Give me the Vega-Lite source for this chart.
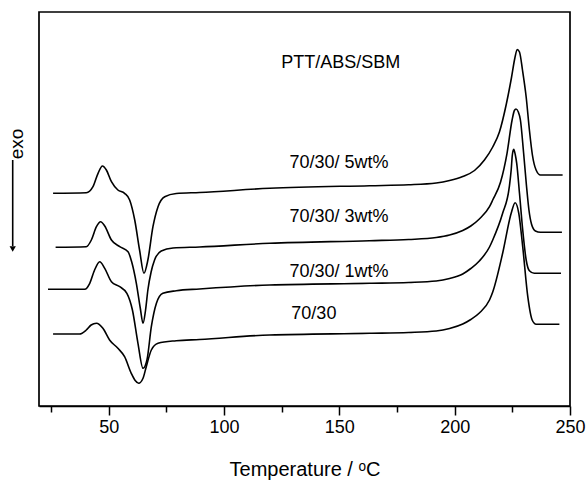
{
  "$schema": "https://vega.github.io/schema/vega-lite/v6.json",
  "width": 531,
  "height": 394,
  "autosize": {"type": "none"},
  "padding": {"left": 39, "top": 12, "right": 18, "bottom": 77},
  "background": "white",
  "config": {"view": {"stroke": "black", "strokeWidth": 1.7}, "font": "Liberation Sans"},
  "datasets": {
    "curves": [
      {"s": "5wt", "T": 25.9, "v": 212.7}, {"s": "5wt", "T": 40.3, "v": 213.3}, {"s": "5wt", "T": 43.2, "v": 219.3}, {"s": "5wt", "T": 45.4, "v": 232.7}, {"s": "5wt", "T": 47.3, "v": 240}, {"s": "5wt", "T": 49.0, "v": 236}, {"s": "5wt", "T": 51.2, "v": 224.3}, {"s": "5wt", "T": 54.0, "v": 216}, {"s": "5wt", "T": 56.9, "v": 212.7}, {"s": "5wt", "T": 59.1, "v": 206}, {"s": "5wt", "T": 61.3, "v": 186}, {"s": "5wt", "T": 63.4, "v": 156}, {"s": "5wt", "T": 65.3, "v": 132.7}, {"s": "5wt", "T": 67.0, "v": 146}, {"s": "5wt", "T": 69.2, "v": 179.3}, {"s": "5wt", "T": 71.4, "v": 199.3}, {"s": "5wt", "T": 74.3, "v": 209.3}, {"s": "5wt", "T": 79.3, "v": 212.5}, {"s": "5wt", "T": 89.4, "v": 213.5}, {"s": "5wt", "T": 119.8, "v": 217.7}, {"s": "5wt", "T": 163.1, "v": 220.3}, {"s": "5wt", "T": 180.0, "v": 221.2}, {"s": "5wt", "T": 192.0, "v": 223}, {"s": "5wt", "T": 197.8, "v": 225.5}, {"s": "5wt", "T": 203.5, "v": 229.5}, {"s": "5wt", "T": 208.6, "v": 235.5}, {"s": "5wt", "T": 212.9, "v": 246}, {"s": "5wt", "T": 216.5, "v": 259}, {"s": "5wt", "T": 219.4, "v": 274}, {"s": "5wt", "T": 222.4, "v": 302}, {"s": "5wt", "T": 224.6, "v": 328}, {"s": "5wt", "T": 226.1, "v": 348}, {"s": "5wt", "T": 227.1, "v": 356.5}, {"s": "5wt", "T": 228.1, "v": 354}, {"s": "5wt", "T": 229.4, "v": 336}, {"s": "5wt", "T": 231.0, "v": 309}, {"s": "5wt", "T": 232.4, "v": 276}, {"s": "5wt", "T": 233.7, "v": 251}, {"s": "5wt", "T": 235.3, "v": 236}, {"s": "5wt", "T": 237.2, "v": 231}, {"s": "5wt", "T": 246.8, "v": 231},

      {"s": "3wt", "T": 27.0, "v": 158.7}, {"s": "3wt", "T": 40.3, "v": 159.3}, {"s": "3wt", "T": 42.5, "v": 166}, {"s": "3wt", "T": 44.7, "v": 179.3}, {"s": "3wt", "T": 46.5, "v": 184.3}, {"s": "3wt", "T": 48.3, "v": 180}, {"s": "3wt", "T": 51.2, "v": 166}, {"s": "3wt", "T": 54.8, "v": 159.3}, {"s": "3wt", "T": 58.4, "v": 154.3}, {"s": "3wt", "T": 60.0, "v": 144}, {"s": "3wt", "T": 62.0, "v": 122.7}, {"s": "3wt", "T": 63.7, "v": 98}, {"s": "3wt", "T": 64.9, "v": 82.7}, {"s": "3wt", "T": 66.0, "v": 96}, {"s": "3wt", "T": 67.0, "v": 116}, {"s": "3wt", "T": 68.4, "v": 134}, {"s": "3wt", "T": 69.9, "v": 146}, {"s": "3wt", "T": 72.8, "v": 155}, {"s": "3wt", "T": 77.9, "v": 158}, {"s": "3wt", "T": 89.4, "v": 159}, {"s": "3wt", "T": 119.8, "v": 162.7}, {"s": "3wt", "T": 163.1, "v": 165.3}, {"s": "3wt", "T": 180.0, "v": 166.5}, {"s": "3wt", "T": 192.0, "v": 168.5}, {"s": "3wt", "T": 197.8, "v": 171}, {"s": "3wt", "T": 203.5, "v": 175.5}, {"s": "3wt", "T": 207.0, "v": 180}, {"s": "3wt", "T": 210.7, "v": 187}, {"s": "3wt", "T": 215.1, "v": 199.3}, {"s": "3wt", "T": 216.5, "v": 206}, {"s": "3wt", "T": 219.9, "v": 224}, {"s": "3wt", "T": 222.7, "v": 252.7}, {"s": "3wt", "T": 224.9, "v": 286}, {"s": "3wt", "T": 225.9, "v": 295.5}, {"s": "3wt", "T": 226.6, "v": 297}, {"s": "3wt", "T": 227.6, "v": 294}, {"s": "3wt", "T": 228.5, "v": 286}, {"s": "3wt", "T": 229.9, "v": 252.7}, {"s": "3wt", "T": 231.1, "v": 221}, {"s": "3wt", "T": 232.2, "v": 196}, {"s": "3wt", "T": 233.3, "v": 182}, {"s": "3wt", "T": 235.0, "v": 175}, {"s": "3wt", "T": 237.2, "v": 173.7}, {"s": "3wt", "T": 246.5, "v": 173.7},

      {"s": "1wt", "T": 23.7, "v": 116.7}, {"s": "1wt", "T": 39.6, "v": 116.7}, {"s": "1wt", "T": 41.8, "v": 122.7}, {"s": "1wt", "T": 43.9, "v": 136}, {"s": "1wt", "T": 46.1, "v": 144.3}, {"s": "1wt", "T": 48.3, "v": 137.7}, {"s": "1wt", "T": 51.2, "v": 124.3}, {"s": "1wt", "T": 54.8, "v": 119.3}, {"s": "1wt", "T": 57.9, "v": 112.7}, {"s": "1wt", "T": 60.3, "v": 96}, {"s": "1wt", "T": 62.7, "v": 62.7}, {"s": "1wt", "T": 64.9, "v": 37.7}, {"s": "1wt", "T": 66.6, "v": 46}, {"s": "1wt", "T": 68.5, "v": 79.3}, {"s": "1wt", "T": 70.7, "v": 102.7}, {"s": "1wt", "T": 73.5, "v": 112.7}, {"s": "1wt", "T": 79.3, "v": 115.3}, {"s": "1wt", "T": 89.4, "v": 117}, {"s": "1wt", "T": 119.8, "v": 121}, {"s": "1wt", "T": 163.1, "v": 122.7}, {"s": "1wt", "T": 180.0, "v": 123.5}, {"s": "1wt", "T": 192.0, "v": 125}, {"s": "1wt", "T": 197.8, "v": 127.5}, {"s": "1wt", "T": 203.5, "v": 132}, {"s": "1wt", "T": 207.0, "v": 137.5}, {"s": "1wt", "T": 210.7, "v": 145}, {"s": "1wt", "T": 215.1, "v": 159}, {"s": "1wt", "T": 216.5, "v": 166}, {"s": "1wt", "T": 220.8, "v": 192.7}, {"s": "1wt", "T": 223.7, "v": 219.3}, {"s": "1wt", "T": 224.5, "v": 236}, {"s": "1wt", "T": 225.0, "v": 251}, {"s": "1wt", "T": 225.6, "v": 256.7}, {"s": "1wt", "T": 226.3, "v": 251}, {"s": "1wt", "T": 226.9, "v": 242.7}, {"s": "1wt", "T": 228.1, "v": 212.7}, {"s": "1wt", "T": 229.5, "v": 176}, {"s": "1wt", "T": 231.0, "v": 146}, {"s": "1wt", "T": 232.4, "v": 135.3}, {"s": "1wt", "T": 234.5, "v": 132.7}, {"s": "1wt", "T": 246.1, "v": 132.7},

      {"s": "0", "T": 25.9, "v": 72}, {"s": "0", "T": 37.4, "v": 72}, {"s": "0", "T": 40.3, "v": 76}, {"s": "0", "T": 42.4, "v": 81}, {"s": "0", "T": 44.7, "v": 82.7}, {"s": "0", "T": 47.5, "v": 77.7}, {"s": "0", "T": 50.4, "v": 66}, {"s": "0", "T": 54.0, "v": 57.7}, {"s": "0", "T": 56.9, "v": 49.3}, {"s": "0", "T": 59.8, "v": 32.7}, {"s": "0", "T": 61.5, "v": 25.5}, {"s": "0", "T": 63.0, "v": 22.7}, {"s": "0", "T": 64.9, "v": 27.7}, {"s": "0", "T": 66.3, "v": 39.3}, {"s": "0", "T": 68.5, "v": 56}, {"s": "0", "T": 71.4, "v": 62.7}, {"s": "0", "T": 79.3, "v": 65.3}, {"s": "0", "T": 89.4, "v": 66.5}, {"s": "0", "T": 119.8, "v": 71}, {"s": "0", "T": 163.1, "v": 72.7}, {"s": "0", "T": 180.0, "v": 73.5}, {"s": "0", "T": 192.0, "v": 75}, {"s": "0", "T": 197.8, "v": 77.5}, {"s": "0", "T": 203.5, "v": 82}, {"s": "0", "T": 207.0, "v": 86.5}, {"s": "0", "T": 210.7, "v": 93}, {"s": "0", "T": 215.1, "v": 106}, {"s": "0", "T": 216.5, "v": 114}, {"s": "0", "T": 220.8, "v": 152.7}, {"s": "0", "T": 224.5, "v": 192.7}, {"s": "0", "T": 226.2, "v": 203.3}, {"s": "0", "T": 227.8, "v": 192.7}, {"s": "0", "T": 229.5, "v": 159.3}, {"s": "0", "T": 231.7, "v": 109.3}, {"s": "0", "T": 233.6, "v": 86}, {"s": "0", "T": 235.3, "v": 81.7}, {"s": "0", "T": 245.4, "v": 81.7}
    ],
    "labels": [
      {"T": 124.8, "v": 343.3, "label": "PTT/ABS/SBM"},
      {"T": 128.4, "v": 243.3, "label": "70/30/ 5wt%"},
      {"T": 128.4, "v": 189.3, "label": "70/30/ 3wt%"},
      {"T": 128.4, "v": 134.3, "label": "70/30/ 1wt%"},
      {"T": 129.2, "v": 92, "label": "70/30"}
    ],
    "arrow": [{"T": 8.4, "v1": 246, "v2": 160, "tip": 157}],
    "exo": [{"T": 10.2, "v": 262, "label": "exo"}]
  },
  "layer": [
    {
      "data": {"name": "curves"},
      "mark": {"type": "line", "interpolate": "monotone", "color": "black", "strokeWidth": 1.6},
      "encoding": {
        "x": {
          "field": "T", "type": "quantitative",
          "scale": {"domain": [19.8, 250], "nice": false, "zero": false},
          "axis": {
            "title": "Temperature / ᵒC",
            "values": [25, 50, 75, 100, 125, 150, 175, 200, 225, 250],
            "tickSize": {"condition": {"test": "datum.value % 50 === 0", "value": 9}, "value": 6},
            "labelExpr": "datum.value % 50 === 0 ? datum.label : ''",
            "tickColor": "black", "tickWidth": 1.5,
            "domainColor": "black", "domainWidth": 1.7,
            "labelFontSize": 18, "labelColor": "black", "labelFont": "Liberation Sans",
            "labelPadding": 3, "labelFlush": false, "labelOverlap": false,
            "titleFontSize": 20, "titleFontWeight": "normal", "titleColor": "black", "titleFont": "Liberation Sans",
            "titlePadding": 23, "grid": false
          }
        },
        "y": {"field": "v", "type": "quantitative", "scale": {"domain": [0, 394], "nice": false, "zero": false}, "axis": null},
        "detail": {"field": "s"}
      }
    },
    {
      "data": {"name": "labels"},
      "mark": {"type": "text", "align": "left", "baseline": "middle", "fontSize": 18, "font": "Liberation Sans", "color": "black"},
      "encoding": {
        "x": {"field": "T", "type": "quantitative"},
        "y": {"field": "v", "type": "quantitative"},
        "text": {"field": "label"}
      }
    },
    {
      "data": {"name": "arrow"},
      "mark": {"type": "rule", "color": "black", "strokeWidth": 1.6},
      "encoding": {
        "x": {"field": "T", "type": "quantitative"},
        "y": {"field": "v1", "type": "quantitative"},
        "y2": {"field": "v2"}
      }
    },
    {
      "data": {"name": "arrow"},
      "mark": {"type": "point", "shape": "triangle-down", "filled": true, "color": "black", "size": 40, "opacity": 1},
      "encoding": {
        "x": {"field": "T", "type": "quantitative"},
        "y": {"field": "tip", "type": "quantitative"}
      }
    },
    {
      "data": {"name": "exo"},
      "mark": {"type": "text", "angle": 270, "align": "center", "baseline": "middle", "fontSize": 19, "font": "Liberation Sans", "color": "black"},
      "encoding": {
        "x": {"field": "T", "type": "quantitative"},
        "y": {"field": "v", "type": "quantitative"},
        "text": {"field": "label"}
      }
    }
  ]
}
